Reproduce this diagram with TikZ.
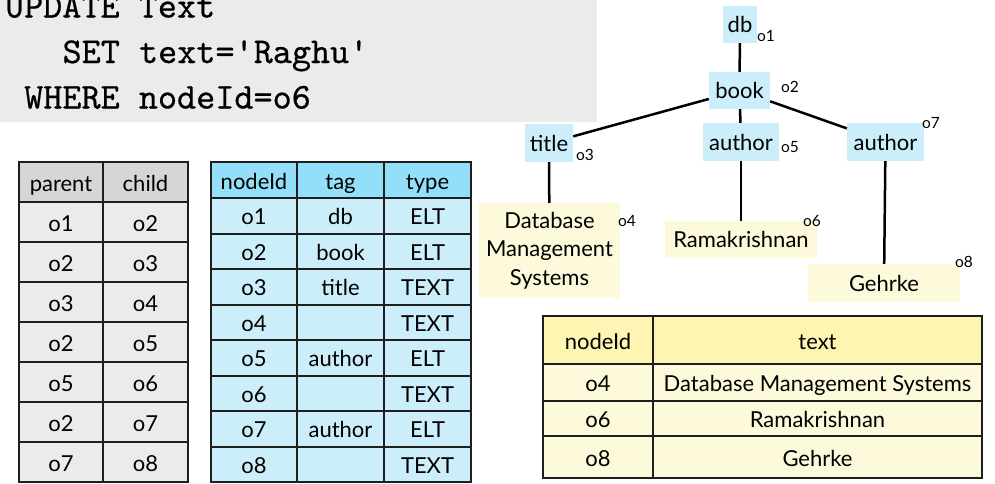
\documentclass[tikz,border=0pt]{standalone}
\usepackage{fontspec}
\setmainfont{Lato}
\newfontfamily\sqlfont{lmmono10-regular}[Extension=.otf,FakeBold=0.6]
\definecolor{sqlgray}{HTML}{EBEBEB}
\definecolor{relhead}{HTML}{D6D6D6}
\definecolor{relbody}{HTML}{EBEBEB}
\definecolor{elthead}{HTML}{93DFF9}
\definecolor{eltbody}{HTML}{CCEEFB}
\definecolor{txthead}{HTML}{FDF5B1}
\definecolor{txtbody}{HTML}{FDFADB}
\definecolor{rule}{HTML}{1E1E1E}
\begin{document}
\begin{tikzpicture}[x=1pt,y=-1pt,
  sql/.style={anchor=base west,inner sep=0pt,font=\fontsize{36.4}{40}\sqlfont},
  cellbox/.style={draw=rule,line width=2pt,inner sep=0pt,text height=21pt,text depth=3pt,font=\fontsize{22}{26}\selectfont},
  treebox/.style={inner sep=0pt,font=\fontsize{22}{28.5}\selectfont,align=center},
  eltnode/.style={treebox,fill=eltbody,text height=20pt,text depth=4pt},
  txtnode/.style={treebox,fill=txtbody},
  oid/.style={inner sep=0pt,font=\fontsize{15.5}{18}\selectfont},
  edge/.style={line width=2.5pt,black}]
\useasboundingbox (0,0) rectangle (995,483);

% SQL statement panel
\fill[sqlgray] (0,0) rectangle (597,122);
\node[sql] (sqlA) at (4.8,17.5) {UPDATE Text};
\node[sql] (sqlB) at (62.4,63) {SET text='Raghu'};
\node[sql] (sqlC) at (24,108.5) {WHERE nodeId=o6};

% Edge relation (parent, child)
\node[cellbox,fill=relhead,minimum width=84,minimum height=40] (rel-h1) at (61,182) {parent};
\node[cellbox,fill=relhead,minimum width=85,minimum height=40] (rel-h2) at (145.5,182) {child};
\foreach \p/\c [count=\i] in {o1/o2,o2/o3,o3/o4,o2/o5,o5/o6,o2/o7,o7/o8}{
  \node[cellbox,fill=relbody,minimum width=84,minimum height=40] (rel-\i-1) at (61,{202+40*\i-20}) {\p};
  \node[cellbox,fill=relbody,minimum width=85,minimum height=40] (rel-\i-2) at (145.5,{202+40*\i-20}) {\c};
}

% Element relation (nodeId, tag, type)
\node[cellbox,fill=elthead,minimum width=86,minimum height=36] (elt-h1) at (254,180) {nodeId};
\node[cellbox,fill=elthead,minimum width=87,minimum height=36] (elt-h2) at (340.5,180) {tag};
\node[cellbox,fill=elthead,minimum width=87,minimum height=36] (elt-h3) at (427.5,180) {type};
\foreach \n/\t/\y [count=\i] in {o1/db/ELT,o2/book/ELT,o3/title/TEXT,o4//TEXT,o5/author/ELT,o6//TEXT,o7/author/ELT,o8//TEXT}{
  \node[cellbox,fill=eltbody,minimum width=86,minimum height=35.5] (elt-\i-1) at (254,{198+35.5*\i-17.75}) {\n};
  \node[cellbox,fill=eltbody,minimum width=87,minimum height=35.5] (elt-\i-2) at (340.5,{198+35.5*\i-17.75}) {\t};
  \node[cellbox,fill=eltbody,minimum width=87,minimum height=35.5] (elt-\i-3) at (427.5,{198+35.5*\i-17.75}) {\y};
}

% Text relation (nodeId, text)
\node[cellbox,fill=txthead,minimum width=110,minimum height=48] (txt-h1) at (598,340) {nodeId};
\node[cellbox,fill=txthead,minimum width=329,minimum height=48] (txt-h2) at (817.5,340) {text};
\node[cellbox,fill=txtbody,minimum width=110,minimum height=37] (txt-1-1) at (598,382.5) {o4};
\node[cellbox,fill=txtbody,minimum width=329,minimum height=37] (txt-1-2) at (817.5,382.5) {Database Management Systems};
\node[cellbox,fill=txtbody,minimum width=110,minimum height=35] (txt-2-1) at (598,418.5) {o6};
\node[cellbox,fill=txtbody,minimum width=329,minimum height=35] (txt-2-2) at (817.5,418.5) {Ramakrishnan};
\node[cellbox,fill=txtbody,minimum width=110,minimum height=42] (txt-3-1) at (598,457) {o8};
\node[cellbox,fill=txtbody,minimum width=329,minimum height=42] (txt-3-2) at (817.5,457) {Gehrke};

% XML tree
\node[eltnode,minimum width=34,minimum height=37] (db) at (740,24.5) {db};
\node[eltnode,minimum width=61,minimum height=37] (book) at (739.5,90.5) {book};
\node[eltnode,minimum width=48,minimum height=38] (title) at (549,143) {title};
\node[eltnode,minimum width=76,minimum height=38] (authA) at (741,142) {author};
\node[eltnode,minimum width=77,minimum height=38] (authB) at (885.5,142) {author};
\node[txtnode,minimum width=141,minimum height=95] (dbms) at (549.5,250.5) {Database\\Management\\Systems};
\node[txtnode,minimum width=152,minimum height=37,text height=20pt,text depth=4pt] (rama) at (741,239.5) {Ramakrishnan};
\node[txtnode,minimum width=152,minimum height=38,text height=20pt,text depth=4pt] (gehrke) at (884,283) {Gehrke};

\draw[edge] (db) -- (book);
\draw[edge] (book) -- (title);
\draw[edge] (book) -- (authA);
\draw[edge] (book) -- (authB);
\draw[edge] (title) -- (dbms);
\draw[edge] (authA) -- (rama);
\draw[edge] (authB) -- (gehrke);

% node identifiers
\node[oid] (id1) at (766,36) {o1};
\node[oid] (id2) at (790,87) {o2};
\node[oid] (id3) at (585,155) {o3};
\node[oid] (id4) at (627,221) {o4};
\node[oid] (id5) at (790,147) {o5};
\node[oid] (id6) at (812,221) {o6};
\node[oid] (id7) at (931,123) {o7};
\node[oid] (id8) at (964,262) {o8};
\end{tikzpicture}
\end{document}
